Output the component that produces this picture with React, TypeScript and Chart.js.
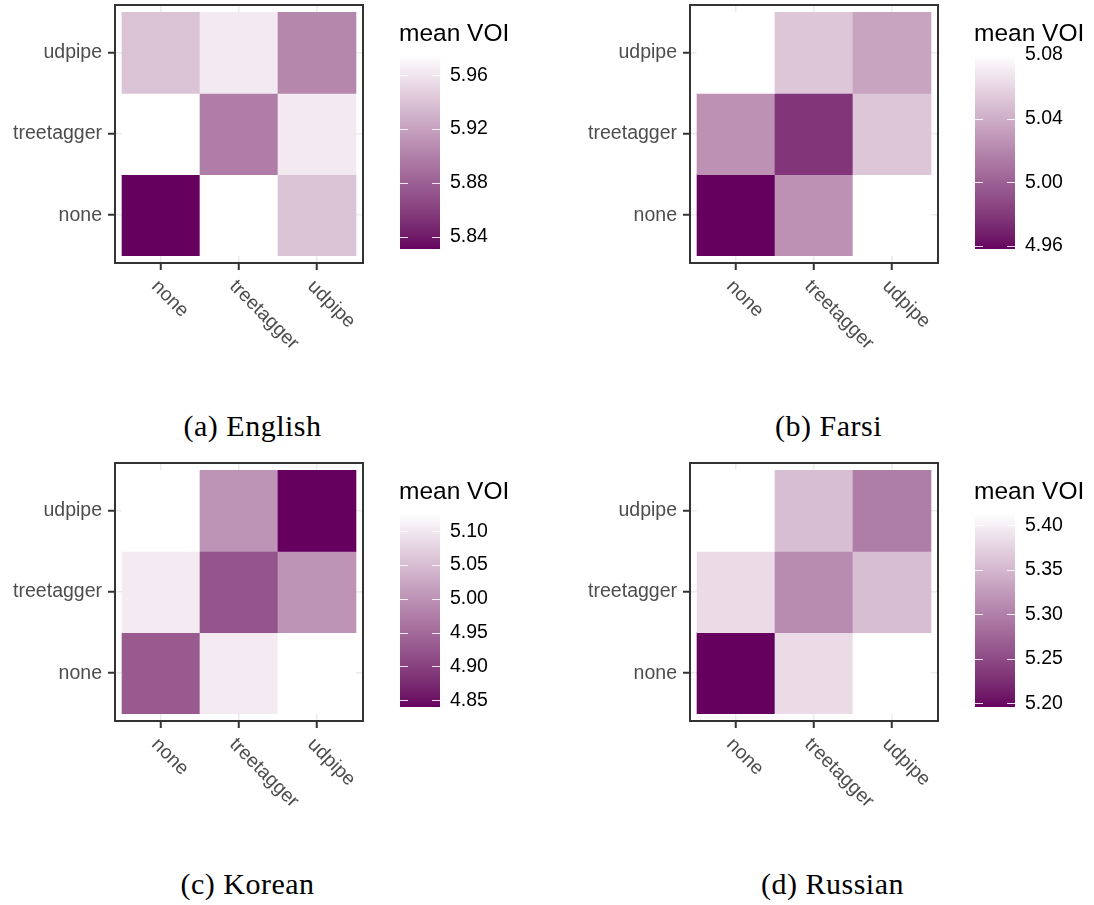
import React, { useEffect, useRef } from "react";
import { Chart, registerables } from "chart.js";

Chart.register(...registerables);

// ---------- data ----------
const parsers = ["none", "treetagger", "udpipe"];

// rows: none, treetagger, udpipe ; columns: none, treetagger, udpipe
const englishVOI = [
  [5.831, 5.975, 5.94],
  [5.975, 5.898, 5.963],
  [5.94, 5.963, 5.904],
];
const farsiVOI = [
  [4.958, 5.025, 5.08],
  [5.025, 4.978, 5.052],
  [5.08, 5.052, 5.035],
];
const koreanVOI = [
  [4.93, 5.104, 5.127],
  [5.104, 4.924, 5.001],
  [5.127, 5.001, 4.84],
];
const russianVOI = [
  [5.196, 5.383, 5.414],
  [5.383, 5.311, 5.357],
  [5.414, 5.357, 5.298],
];

const englishTicks = [5.84, 5.88, 5.92, 5.96];
const farsiTicks = [4.96, 5.0, 5.04, 5.08];
const koreanTicks = [4.85, 4.9, 4.95, 5.0, 5.05, 5.1];
const russianTicks = [5.2, 5.25, 5.3, 5.35, 5.4];

const captions = ["(a) English", "(b) Farsi", "(c) Korean", "(d) Russian"];
const legendTitle = "mean VOI";
const axisPositions = [0.5, 1.5, 2.5];

// ---------- style ----------
const LOW = "#66005F";
const HIGH = "#FFFFFF";
const SANS = '"Liberation Sans", Arial, sans-serif';
const AXIS_FS = 19.5;
const TICK_LEN = 7;

// ---------- colour (Lab interpolation, like ggplot) ----------
function hexToRgb(h: string) {
  const n = parseInt(h.slice(1), 16);
  return [(n >> 16) & 255, (n >> 8) & 255, n & 255];
}
const toLin = (c: number) => {
  c /= 255;
  return c <= 0.04045 ? c / 12.92 : Math.pow((c + 0.055) / 1.055, 2.4);
};
const fromLin = (c: number) => {
  const v = c <= 0.0031308 ? 12.92 * c : 1.055 * Math.pow(c, 1 / 2.4) - 0.055;
  return Math.round(Math.max(0, Math.min(1, v)) * 255);
};
const D = 6 / 29;
const f = (t: number) => (t > D * D * D ? Math.cbrt(t) : t / (3 * D * D) + 4 / 29);
const finv = (t: number) => (t > D ? t * t * t : 3 * D * D * (t - 4 / 29));
const Xn = 0.95047, Yn = 1, Zn = 1.08883;
function hexToLab(h: string) {
  const [R, G, B] = hexToRgb(h).map(toLin);
  const X = 0.4124 * R + 0.3576 * G + 0.1805 * B;
  const Y = 0.2126 * R + 0.7152 * G + 0.0722 * B;
  const Z = 0.0193 * R + 0.1192 * G + 0.9505 * B;
  const fx = f(X / Xn), fy = f(Y / Yn), fz = f(Z / Zn);
  return [116 * fy - 16, 500 * (fx - fy), 200 * (fy - fz)];
}
function labToRgbStr(L: number, a: number, b: number) {
  const fy = (L + 16) / 116;
  const fx = fy + a / 500;
  const fz = fy - b / 200;
  const X = Xn * finv(fx), Y = Yn * finv(fy), Z = Zn * finv(fz);
  const r = 3.2406 * X - 1.5372 * Y - 0.4986 * Z;
  const g = -0.9689 * X + 1.8758 * Y + 0.0415 * Z;
  const bb = 0.0557 * X - 0.204 * Y + 1.057 * Z;
  return `rgb(${fromLin(r)},${fromLin(g)},${fromLin(bb)})`;
}
const labLow = hexToLab(LOW);
const labHigh = hexToLab(HIGH);
function colorAt(t: number) {
  const u = Math.max(0, Math.min(1, t));
  return labToRgbStr(
    labLow[0] + (labHigh[0] - labLow[0]) * u,
    labLow[1] + (labHigh[1] - labLow[1]) * u,
    labLow[2] + (labHigh[2] - labLow[2]) * u
  );
}

function range(values: number[][]) {
  const flat = values.flat();
  return [Math.min(...flat), Math.max(...flat)];
}

// ---------- heatmap ----------
const HM_W = 375;
const HM_H = 400;

function Heatmap({ values, left, top }: { values: number[][]; left: number; top: number }) {
  const ref = useRef<HTMLCanvasElement>(null);
  useEffect(() => {
    const [vmin, vmax] = range(values);
    const cells: any[] = [];
    const colors: string[] = [];
    values.forEach((row, r) =>
      row.forEach((v, c) => {
        cells.push({ x: c + 0.5, y: [r, r + 1] });
        colors.push(colorAt((v - vmin) / (vmax - vmin)));
      })
    );
    const framePlugin = {
      id: "frame",
      afterDraw(chart: any) {
        const { ctx, chartArea: a } = chart;
        const xs = chart.scales.x;
        ctx.save();
        ctx.font = `${AXIS_FS}px ${SANS}`;
        ctx.fillStyle = "#4D4D4D";
        ctx.textAlign = "left";
        ctx.textBaseline = "alphabetic";
        xs.ticks.forEach((t: any) => {
          const px = xs.getPixelForValue(t.value);
          ctx.save();
          ctx.translate(px, a.bottom + TICK_LEN);
          ctx.rotate(Math.PI / 4);
          ctx.fillText(parsers[Math.floor(t.value)], 5, 19.5);
          ctx.restore();
        });
        ctx.strokeStyle = "#333333";
        ctx.lineWidth = 2;
        ctx.strokeRect(a.left, a.top, a.right - a.left, a.bottom - a.top);
        ctx.restore();
      },
    };
    const gridOpts = {
      color: "#EBEBEB",
      lineWidth: 1.5,
      tickColor: "#333333",
      tickWidth: 2,
      tickLength: TICK_LEN,
      offset: false,
    };
    const chart = new Chart(ref.current as HTMLCanvasElement, {
      type: "bar",
      data: {
        datasets: [
          {
            data: cells,
            backgroundColor: colors,
            borderWidth: 0,
            barPercentage: 1,
            categoryPercentage: 1,
          } as any,
        ],
      },
      options: {
        responsive: false,
        animation: false,
        events: [],
        layout: { padding: { top: 5, right: 12, left: 0, bottom: 0 } },
        plugins: { legend: { display: false }, tooltip: { enabled: false } },
        scales: {
          x: {
            type: "linear",
            min: -0.09,
            max: 3.09,
            offset: false,
            grid: gridOpts,
            border: { display: false },
            ticks: { display: false, autoSkip: false },
            afterBuildTicks: (s: any) => {
              s.ticks = axisPositions.map((v) => ({ value: v }));
            },
            afterFit: (s: any) => {
              s.height = HM_H - 263;
              s.paddingLeft = 0;
              s.paddingRight = 0;
            },
          },
          y: {
            type: "linear",
            min: -0.09,
            max: 3.09,
            grid: gridOpts,
            border: { display: false },
            ticks: {
              autoSkip: false,
              padding: 6,
              color: "#4D4D4D",
              font: { family: SANS, size: AXIS_FS },
              callback: (v: any) => parsers[Math.floor(Number(v))],
            },
            afterBuildTicks: (s: any) => {
              s.ticks = axisPositions.map((v) => ({ value: v }));
            },
            afterFit: (s: any) => {
              s.width = 115;
              s.paddingTop = 0;
              s.paddingBottom = 0;
            },
          },
        },
      } as any,
      plugins: [framePlugin],
    });
    return () => chart.destroy();
  }, []);
  return (
    <canvas
      ref={ref}
      width={HM_W}
      height={HM_H}
      style={{ position: "absolute", left, top, width: HM_W, height: HM_H }}
    />
  );
}

// ---------- colour bar ----------
const CB_W = 100;
const CB_H = 230;
const CB_BAR = 40;

function ColorBar({
  values,
  ticks,
  left,
  top,
}: {
  values: number[][];
  ticks: number[];
  left: number;
  top: number;
}) {
  const ref = useRef<HTMLCanvasElement>(null);
  useEffect(() => {
    const [vmin, vmax] = range(values);
    const marks = {
      id: "marks",
      afterDatasetsDraw(chart: any) {
        const { ctx, chartArea: a } = chart;
        const ys = chart.scales.y;
        const w = (a.right - a.left) / 5;
        ctx.save();
        ctx.strokeStyle = "rgba(255,255,255,0.85)";
        ctx.lineWidth = 1;
        ticks.forEach((v) => {
          const y = Math.round(ys.getPixelForValue(v)) + 0.5;
          ctx.beginPath();
          ctx.moveTo(a.left, y);
          ctx.lineTo(a.left + w, y);
          ctx.moveTo(a.right - w, y);
          ctx.lineTo(a.right, y);
          ctx.stroke();
        });
        ctx.restore();
      },
    };
    const chart = new Chart(ref.current as HTMLCanvasElement, {
      type: "bar",
      data: {
        labels: [legendTitle],
        datasets: [
          {
            data: [[vmin, vmax]],
            borderWidth: 0,
            barPercentage: 1,
            categoryPercentage: 1,
            backgroundColor: (c: any) => {
              const area = c.chart.chartArea;
              if (!area) return LOW;
              const g = c.chart.ctx.createLinearGradient(0, area.bottom, 0, area.top);
              const N = 40;
              for (let i = 0; i <= N; i++) g.addColorStop(i / N, colorAt(i / N));
              return g;
            },
          } as any,
        ],
      },
      options: {
        responsive: false,
        animation: false,
        events: [],
        layout: { padding: { top: 15, bottom: 21, left: 0, right: 0 } },
        plugins: { legend: { display: false }, tooltip: { enabled: false } },
        scales: {
          x: { display: false },
          y: {
            type: "linear",
            position: "right",
            min: vmin,
            max: vmax,
            grid: { display: false, drawTicks: false },
            border: { display: false },
            ticks: {
              autoSkip: false,
              padding: 10,
              color: "#000000",
              font: { family: SANS, size: AXIS_FS },
              callback: (v: any) => Number(v).toFixed(2),
            },
            afterBuildTicks: (s: any) => {
              s.ticks = ticks.map((v) => ({ value: v }));
            },
            afterFit: (s: any) => {
              s.width = CB_W - CB_BAR;
              s.paddingTop = 0;
              s.paddingBottom = 0;
            },
          },
        },
      } as any,
      plugins: [marks],
    });
    return () => chart.destroy();
  }, []);
  return (
    <canvas
      ref={ref}
      width={CB_W}
      height={CB_H}
      style={{ position: "absolute", left, top, width: CB_W, height: CB_H }}
    />
  );
}

// ---------- layout ----------
const panels = [
  { values: englishVOI, ticks: englishTicks, caption: captions[0], dx: 0, dy: 0, capX: 252.5, capY: 436 },
  { values: farsiVOI, ticks: farsiTicks, caption: captions[1], dx: 575, dy: 0, capX: 828.5, capY: 436 },
  { values: koreanVOI, ticks: koreanTicks, caption: captions[2], dx: 0, dy: 458, capX: 247.5, capY: 894 },
  { values: russianVOI, ticks: russianTicks, caption: captions[3], dx: 575, dy: 458, capX: 832.5, capY: 894 },
];

export default function App() {
  return (
    <div
      style={{
        position: "absolute",
        left: 0,
        top: 0,
        width: 1094,
        height: 905,
        background: "#ffffff",
        overflow: "hidden",
      }}
    >
      {panels.map((p, i) => (
        <React.Fragment key={i}>
          <Heatmap values={p.values} left={p.dx} top={p.dy} />
          <ColorBar values={p.values} ticks={p.ticks} left={400 + p.dx} top={40 + p.dy} />
          <div
            style={{
              position: "absolute",
              left: 399 + p.dx,
              top: 20.7 + p.dy,
              fontFamily: SANS,
              fontSize: 24.5,
              lineHeight: "24px",
              color: "#000",
              whiteSpace: "nowrap",
            }}
          >
            {legendTitle}
          </div>
          <div
            style={{
              position: "absolute",
              left: p.capX - 200,
              width: 400,
              top: p.capY - 25.1,
              textAlign: "center",
              fontFamily: '"Liberation Serif", "Times New Roman", serif',
              fontSize: 30,
              lineHeight: "30px",
              letterSpacing: "0.5px",
              color: "#000",
              whiteSpace: "nowrap",
            }}
          >
            {p.caption}
          </div>
        </React.Fragment>
      ))}
    </div>
  );
}
